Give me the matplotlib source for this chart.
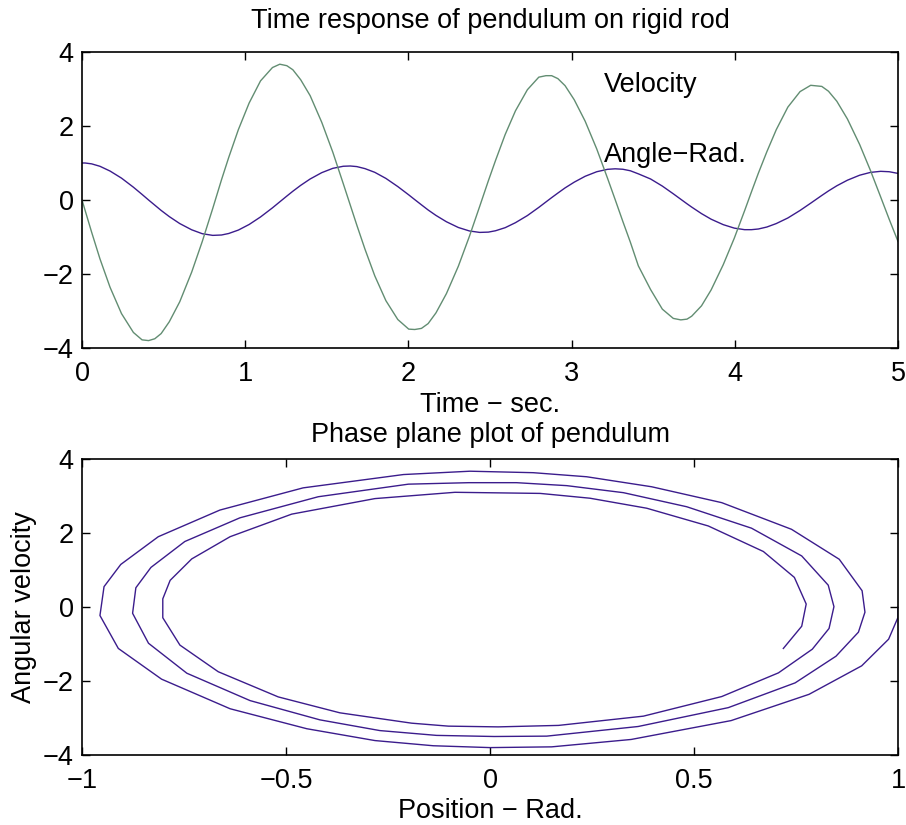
import matplotlib
matplotlib.use("Agg")
import matplotlib.pyplot as plt

plt.rcParams['font.family'] = ['Liberation Sans', 'DejaVu Sans']

# Sample times (s)
time_s = [0.000, 0.019, 0.059, 0.110, 0.172, 0.242, 0.315, 0.368, 0.408, 0.446,
          0.485, 0.535, 0.599, 0.672, 0.737, 0.801, 0.855, 0.899, 0.958, 1.024,
          1.094, 1.167, 1.212, 1.255, 1.292, 1.340, 1.398, 1.469, 1.537, 1.601,
          1.644, 1.684, 1.734, 1.794, 1.862, 1.935, 2.002, 2.039, 2.080, 2.121,
          2.169, 2.233, 2.306, 2.374, 2.437, 2.490, 2.534, 2.593, 2.656, 2.729,
          2.799, 2.843, 2.878, 2.916, 2.960, 3.016, 3.083, 3.154, 3.220, 3.267,
          3.314, 3.360, 3.409, 3.484, 3.556, 3.623, 3.669, 3.707, 3.736, 3.796,
          3.855, 3.929, 3.997, 4.060, 4.102, 4.144, 4.196, 4.254, 4.325, 4.400,
          4.465, 4.533, 4.574, 4.625, 4.690, 4.765, 4.831, 4.894, 4.946, 5.000]

# Angle (rad)
angle_rad = [1.000, 1.000, 0.977, 0.911, 0.782, 0.591, 0.346, 0.151, 0.000, -0.139,
             -0.282, -0.449, -0.637, -0.805, -0.911, -0.956, -0.946, -0.905, -0.813, -0.662,
             -0.458, -0.212, -0.049, 0.106, 0.237, 0.396, 0.568, 0.739, 0.856, 0.912,
             0.919, 0.903, 0.848, 0.748, 0.584, 0.363, 0.139, 0.010, -0.131, -0.270,
             -0.417, -0.588, -0.743, -0.837, -0.876, -0.868, -0.831, -0.748, -0.613, -0.421,
             -0.200, -0.052, 0.065, 0.188, 0.327, 0.482, 0.641, 0.764, 0.829, 0.843,
             0.831, 0.790, 0.707, 0.568, 0.376, 0.168, 0.020, -0.102, -0.192, -0.368,
             -0.519, -0.666, -0.760, -0.802, -0.802, -0.784, -0.731, -0.637, -0.486, -0.282,
             -0.086, 0.123, 0.245, 0.384, 0.535, 0.670, 0.746, 0.775, 0.764, 0.719]

# Angular velocity (rad/s)
velocity = [0.00, -0.28, -0.87, -1.59, -2.36, -3.07, -3.58, -3.78, -3.80, -3.75,
            -3.61, -3.29, -2.75, -1.95, -1.12, -0.23, 0.55, 1.15, 1.90, 2.62,
            3.22, 3.58, 3.67, 3.63, 3.52, 3.25, 2.82, 2.10, 1.29, 0.44,
            -0.14, -0.68, -1.33, -2.05, -2.72, -3.23, -3.49, -3.50, -3.47, -3.34,
            -3.05, -2.53, -1.79, -0.98, -0.17, 0.52, 1.07, 1.77, 2.41, 2.98,
            3.32, 3.36, 3.36, 3.28, 3.09, 2.71, 2.13, 1.38, 0.59, 0.01,
            -0.58, -1.14, -1.78, -2.42, -2.95, -3.20, -3.24, -3.22, -3.14, -2.86,
            -2.43, -1.75, -1.03, -0.29, 0.22, 0.72, 1.30, 1.90, 2.51, 2.93,
            3.10, 3.07, 2.94, 2.67, 2.19, 1.50, 0.80, 0.08, -0.52, -1.12]

time_ticks = [0, 1, 2, 3, 4, 5]
value_ticks = [-4, -2, 0, 2, 4]
pos_ticks = [-1, -0.5, 0, 0.5, 1]
pos_tick_labels = ['\u22121', '\u22120.5', '0', '0.5', '1']
value_tick_labels = ['\u22124', '\u22122', '0', '2', '4']

angle_color = '#3b1c8c'
vel_color = '#628d72'
FS = 19.5

fig = plt.figure(figsize=(9.06, 8.25), dpi=100)
ax1 = fig.add_axes([82/906, 1-348/825, 816/906, 296/825])
ax2 = fig.add_axes([82/906, 1-755/825, 816/906, 296/825])

ax1.plot(time_s, angle_rad, color=angle_color, lw=1.0)
ax1.plot(time_s, velocity, color=vel_color, lw=1.0)
ax1.set_xlim(0, 5)
ax1.set_ylim(-4, 4)
ax1.set_xticks(time_ticks)
ax1.set_xticklabels([str(v) for v in time_ticks])
ax1.set_yticks(value_ticks)
ax1.set_yticklabels(value_tick_labels)
ax1.text(3.2, 3.1, 'Velocity', fontsize=FS, va='center', ha='left')
ax1.text(3.2, 1.22, 'Angle\u2212Rad.', fontsize=FS, va='center', ha='left')
ax1.set_title('Time response of pendulum on rigid rod', fontsize=FS, pad=17)
ax1.set_xlabel('Time \u2212 sec.', fontsize=FS, labelpad=4)

ax2.plot(angle_rad, velocity, color=angle_color, lw=1.0)
ax2.set_xlim(-1, 1)
ax2.set_ylim(-4, 4)
ax2.set_xticks(pos_ticks)
ax2.set_xticklabels(pos_tick_labels)
ax2.set_yticks(value_ticks)
ax2.set_yticklabels(value_tick_labels)
ax2.set_title('Phase plane plot of pendulum', fontsize=FS, pad=12)
ax2.set_xlabel('Position \u2212 Rad.', fontsize=FS, labelpad=3)
ax2.set_ylabel('Angular velocity', fontsize=FS, labelpad=4)

for ax in (ax1, ax2):
    ax.tick_params(direction='in', top=True, right=True, length=6, width=1.0,
                   labelsize=FS, color='black')
    ax.tick_params(axis='x', pad=9)
    ax.tick_params(axis='y', pad=6)
    for s in ax.spines.values():
        s.set_linewidth(1.2)

fig.savefig('out.png', dpi=100)
